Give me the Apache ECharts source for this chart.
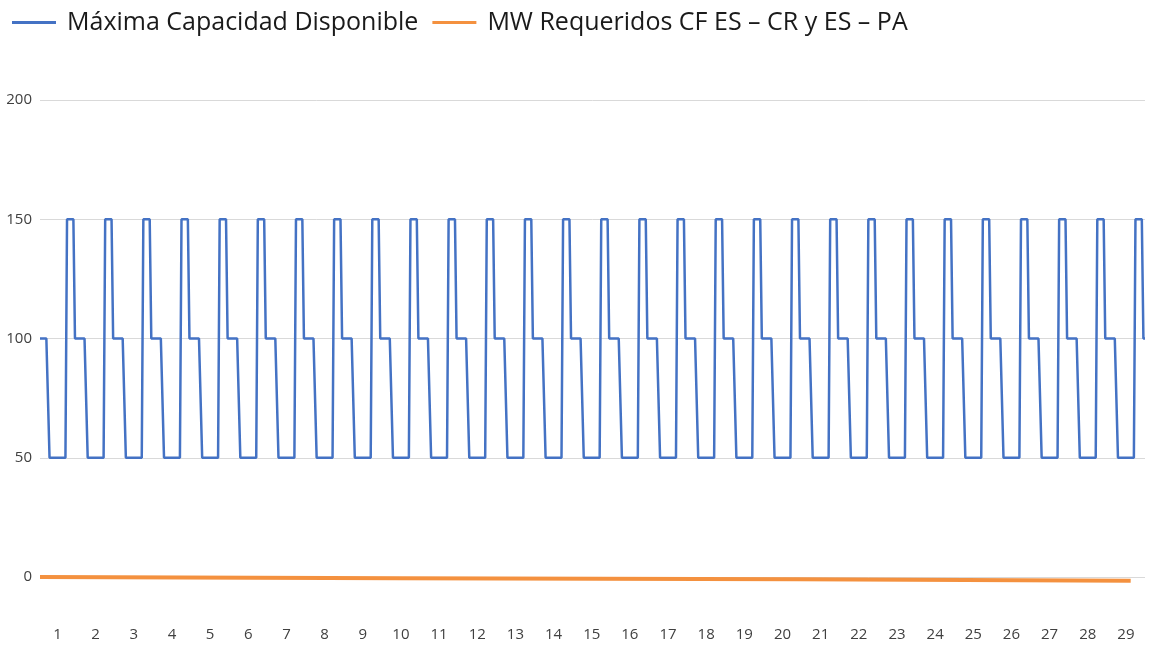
<!DOCTYPE html>
<html>
<head>
<meta charset="utf-8">
<title>Máxima Capacidad Disponible</title>
<script src="https://cdn.jsdelivr.net/npm/echarts@6/dist/echarts.min.js"></script>
<style>
  html, body { margin: 0; padding: 0; background: #fff; }
  #chart { width: 1151px; height: 645px; }
</style>
</head>
<body>
<div id="chart"></div>
<script>
// dias del mes (etiquetas del eje X)
const days = [1, 2, 3, 4, 5, 6, 7, 8, 9, 10, 11, 12, 13, 14, 15, 16, 17, 18, 19, 20,
  21, 22, 23, 24, 25, 26, 27, 28, 29]
const hoursPerDay = 24

// perfil horario de la capacidad disponible (MW), se repite igual cada dia
const dailyCapacity = [100, 100, 100, 100, 100, 100,
  50, 50, 50, 50, 50, 50, 50, 50, 50, 50, 50,
  150, 150, 150, 150, 150,
  100, 100]

// MW requeridos: puntos (indice de hora, valor)
const requiredHour = [0, 226, 478, 686]
const requiredMW = [0, -0.55, -0.95, -1.55]

const yTicks = [0, 50, 100, 150, 200]

// eje de categorias: una por hora
const hours = []
const capacity = []
days.forEach((d, di) => {
  dailyCapacity.forEach((v, h) => {
    hours.push(String(di * hoursPerDay + h))
    capacity.push(v)
  })
})
const required = requiredHour.map((h, i) => [h, requiredMW[i]])

const chart = echarts.init(document.getElementById('chart'))

chart.setOption({
  animation: false,
  backgroundColor: '#ffffff',
  textStyle: { fontFamily: '"Open Sans", "Noto Sans", sans-serif' },
  legend: {
    left: 7,
    top: 5,
    icon: 'rect',
    itemWidth: 44,
    itemHeight: 3,
    itemGap: 14,
    textStyle: {
      fontSize: 25,
      color: '#1a1a1a',
      fontFamily: '"Open Sans", "Noto Sans", sans-serif',
      padding: [0, 0, 0, 6]
    },
    data: ['Máxima Capacidad Disponible', 'MW Requeridos CF ES – CR y ES – PA']
  },
  grid: {
    left: 40,
    right: 6,
    top: 100,
    bottom: 68,
    containLabel: false
  },
  xAxis: {
    type: 'category',
    data: hours,
    boundaryGap: false,
    axisLine: { show: false },
    axisTick: { show: false },
    splitLine: { show: false },
    axisLabel: {
      interval: (index) => index % hoursPerDay === 11,
      formatter: (value, index) => String(days[Math.floor(index / hoursPerDay)]),
      margin: 50,
      fontSize: 15,
      color: '#404040'
    }
  },
  yAxis: {
    type: 'value',
    min: yTicks[0],
    max: yTicks[yTicks.length - 1],
    interval: 50,
    axisLine: { show: false },
    axisTick: { show: false },
    axisLabel: {
      margin: 8,
      fontSize: 15,
      color: '#404040'
    },
    splitLine: { lineStyle: { color: '#d9d9d9', width: 1 } }
  },
  series: [
    {
      name: 'Máxima Capacidad Disponible',
      type: 'line',
      data: capacity,
      symbol: 'none',
      color: '#4472C4',
      lineStyle: { color: '#4472C4', width: 2.5 },
      z: 3
    },
    {
      name: 'MW Requeridos CF ES – CR y ES – PA',
      type: 'line',
      data: required,
      symbol: 'none',
      clip: false,
      color: '#F4913F',
      lineStyle: { color: '#F4913F', width: 4 },
      z: 2
    }
  ]
})
</script>
</body>
</html>
